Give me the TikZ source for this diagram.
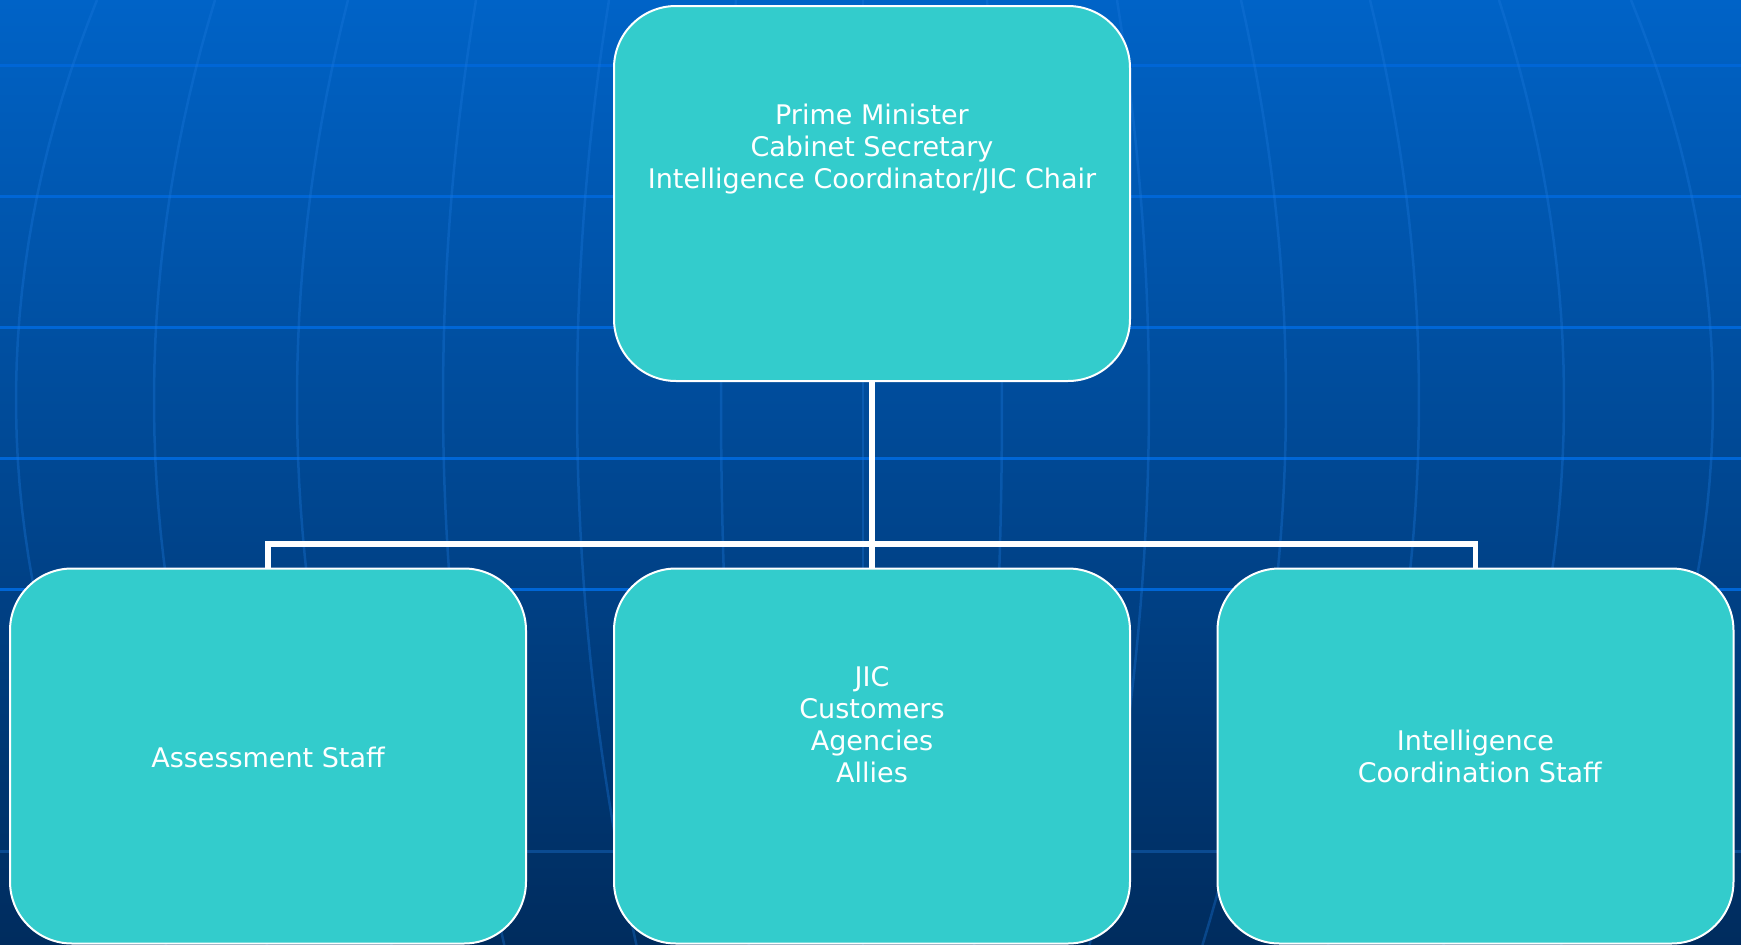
\documentclass[tikz,border=0pt]{standalone}
\usepackage{fontspec}
\setmainfont{DejaVu Sans}
\definecolor{bgtop}{HTML}{0063C7}
\definecolor{bgmid}{HTML}{004D9C}
\definecolor{bgbot}{HTML}{002C5E}
\definecolor{gridh}{HTML}{0066D6}
\definecolor{gridlow}{HTML}{0B4B92}
\definecolor{gridm}{HTML}{1A78DC}
\definecolor{boxc}{HTML}{33CCCC}
\begin{document}
\begin{tikzpicture}[x=1pt,y=-1pt,
  box/.style={draw=white, line width=2pt, fill=boxc, rounded corners=62pt,
    minimum width=516pt, minimum height=375pt, inner sep=0pt},
  lbl/.style={text=white, align=center, font=\fontsize{27}{32}\selectfont, inner sep=0pt},
  conn/.style={draw=white, line width=5.5pt},
  hline/.style={draw=gridh, line width=3pt},
  mer/.style={draw=gridm, line width=2.5pt, opacity=0.35}]
\useasboundingbox (0,0) rectangle (1741,945);
\shade[top color=bgtop, middle color=bgmid, bottom color=bgbot] (0,0) rectangle (1741,945);
% latitude lines
\foreach \yy in {65,196,327,458,589}{\draw[hline] (0,\yy) -- (1741,\yy);}
\draw[hline, draw=gridlow] (0,851) -- (1741,851);
% meridians: x = xm + s*t*((y-400)/400)^2
\foreach \xm/\tt in {16/81, 154/61, 297/51, 443/33, 577/32, 721/15, 863/0, 1002/-15, 1149/-32, 1286/-45, 1419/-49, 1564/-65, 1713/-82}{
  \draw[mer] plot[domain=0:945, samples=40, variable=\t] ({\xm+\tt*((\t-400)/400)^2}, \t);
}
% boxes
\node[box] (pm) at (872,193.5) {};
\node[box] (as) at (268,756) {};
\node[box] (jic) at (872,756) {};
\node[box] (ic) at (1475.5,756) {};
% connectors
\coordinate (hub) at (872,544);
\draw[conn] (pm.south) -- (hub);
\draw[conn] (hub) -- (jic.north);
\draw[conn] (as.north) |- (hub) -| (ic.north);
% labels
\node[lbl] (pmt) at (872,149) {Prime Minister\\Cabinet Secretary\\Intelligence Coordinator/JIC Chair};
\node[lbl] (ast) at (268,757.4) {Assessment Staff};
\node[lbl] (jict) at (872,725) {JIC\\Customers\\Agencies\\Allies};
\node[lbl] (ict) at (1475.5,756.8) {Intelligence\\\mbox{}\ Coordination Staff};
\end{tikzpicture}
\end{document}
